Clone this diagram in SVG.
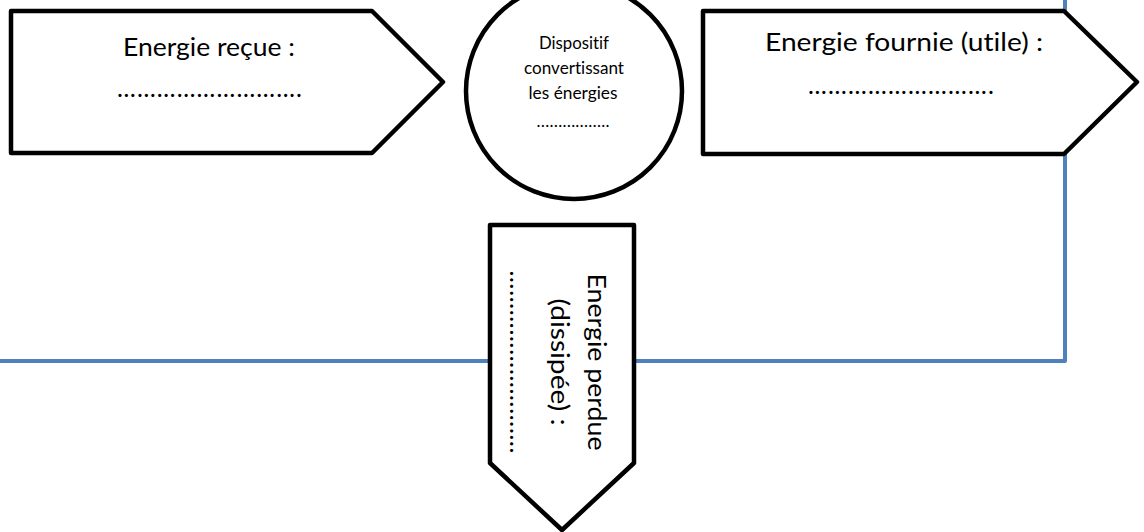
<svg xmlns="http://www.w3.org/2000/svg" width="1144" height="532" viewBox="0 0 1144 532">
  <style>
    .shape { fill: #ffffff; stroke: #000000; stroke-width: 4.5; stroke-linejoin: round; }
    .lbl { font-family: Lato, "Open Sans", "Liberation Sans", sans-serif; font-size: 25px; fill: #000000; text-anchor: middle; font-variant-ligatures: none; }
    .small { font-family: Lato, "Open Sans", "Liberation Sans", sans-serif; font-size: 17px; fill: #000000; text-anchor: middle; font-variant-ligatures: none; }
    .link { fill: none; stroke: #4F81BD; stroke-width: 4; stroke-linejoin: round; }
  </style>
  <rect x="0" y="0" width="1144" height="532" fill="#ffffff"/>
  <g id="connectors">
    <path class="link" d="M0,361 L1065,361 L1065,0"/>
  </g>
  <g id="node-received">
    <path class="shape" d="M11,11 L372,11 L443,82 L372,153 L11,153 Z"/>
    <text class="lbl" x="209" y="56" textLength="172" lengthAdjust="spacingAndGlyphs">Energie reçue :</text>
    <text class="lbl" x="209.5" y="97" textLength="185" lengthAdjust="spacing">……………………….</text>
  </g>
  <g id="node-device">
    <circle class="shape" cx="574" cy="91" r="108"/>
    <text class="small" x="574" y="49" textLength="70" lengthAdjust="spacingAndGlyphs">Dispositif</text>
    <text class="small" x="574" y="74" textLength="100" lengthAdjust="spacingAndGlyphs">convertissant</text>
    <text class="small" x="573" y="99" textLength="89" lengthAdjust="spacingAndGlyphs">les énergies</text>
    <text class="small" x="573" y="127" textLength="73" lengthAdjust="spacing">……………..</text>
  </g>
  <g id="node-useful">
    <path class="shape" d="M703,11 L1064,11 L1137,82 L1064,154 L703,154 Z"/>
    <text class="lbl" x="904" y="51" textLength="278" lengthAdjust="spacingAndGlyphs">Energie fournie (utile) :</text>
    <text class="lbl" x="901" y="94" textLength="186" lengthAdjust="spacing">……………………….</text>
  </g>
  <g id="node-lost">
    <path class="shape" d="M490,225 L634,225 L634,463 L562,530 L490,463 Z"/>
    <text class="lbl" x="588" y="362" transform="rotate(90 588 362)" textLength="177" lengthAdjust="spacingAndGlyphs">Energie perdue</text>
    <text class="lbl" x="551" y="362" transform="rotate(90 551 362)" textLength="127" lengthAdjust="spacingAndGlyphs">(dissipée) :</text>
    <text class="lbl" x="510" y="362" transform="rotate(90 510 362)" textLength="183" lengthAdjust="spacing">……………………….</text>
  </g>
</svg>
